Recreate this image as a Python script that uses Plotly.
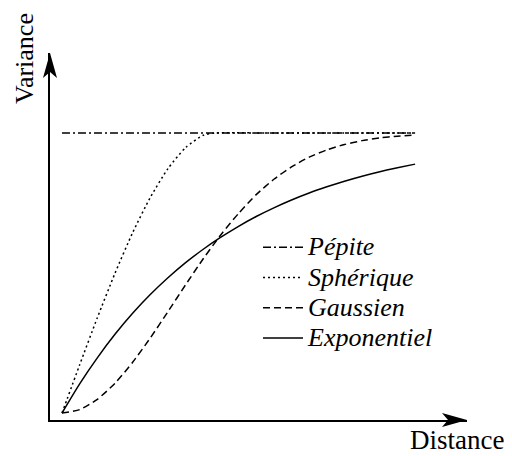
import plotly.graph_objects as go

# ---- data (distance and variance in relative units) ----
distance = [0.0, 0.05, 0.1, 0.15, 0.2, 0.25, 0.3, 0.35, 0.4, 0.45, 0.5,
            0.55, 0.6, 0.65, 0.7, 0.75, 0.8, 0.85, 0.9, 0.95, 1.0]
pepite_x = [0.0, 1.0]
pepite_y = [1.0, 1.0]
spherique_x = [0.0, 0.05, 0.1, 0.15, 0.2, 0.25, 0.3, 0.35, 0.4, 0.433, 0.6, 0.8, 1.0]
spherique_y = [0.0, 0.172, 0.340, 0.499, 0.644, 0.770, 0.873, 0.948, 0.992, 1.0, 1.0, 1.0, 1.0]
gaussien_y = [0.0, 0.012, 0.049, 0.106, 0.181, 0.268, 0.362, 0.458, 0.551, 0.637, 0.713,
              0.780, 0.835, 0.879, 0.914, 0.940, 0.959, 0.973, 0.983, 0.989, 0.993]
exponentiel_y = [0.0, 0.104, 0.197, 0.281, 0.356, 0.423, 0.483, 0.537, 0.585, 0.628, 0.667,
                 0.702, 0.733, 0.761, 0.786, 0.808, 0.828, 0.846, 0.862, 0.876, 0.889]
labels = ["Pépite", "Sphérique", "Gaussien", "Exponentiel"]
axis_labels = ["Distance", "Variance"]

# page has an 8px body margin; figure sized to fit the 512x456 window
OFF = 8
W, H = 512 - OFF, 456 - OFF
ML, MR, MT, MB = 42, 45, 45, 36
PW, PH = W - ML - MR, H - MT - MB


def pp(px, py):
    """page pixel -> paper coordinates"""
    fx, fy = px - OFF, py - OFF
    return (fx - ML) / PW, (H - MB - fy) / PH


FONT = "Liberation Serif, Times New Roman, serif"


def leg(name):
    return f'<span style="font-size:26px">{name}</span>'


fig = go.Figure()
fig.add_trace(go.Scatter(x=pepite_x, y=pepite_y, mode="lines", name=leg(labels[0]),
                         line=dict(color="black", width=1.5, dash="8px,3px,2px,3px")))
fig.add_trace(go.Scatter(x=spherique_x, y=spherique_y, mode="lines", name=leg(labels[1]),
                         line=dict(color="black", width=1.5, dash="2px,3px", shape="spline", smoothing=0.6)))
fig.add_trace(go.Scatter(x=distance, y=gaussien_y, mode="lines", name=leg(labels[2]),
                         line=dict(color="black", width=1.5, dash="7px,4px", shape="spline", smoothing=0.6)))
fig.add_trace(go.Scatter(x=distance, y=exponentiel_y, mode="lines", name=leg(labels[3]),
                         line=dict(color="black", width=1.5, shape="spline", smoothing=0.6)))


def path(points):
    pts = [pp(*p) for p in points]
    return "M" + " L".join(f"{x:.5f},{y:.5f}" for x, y in pts) + " Z"


# arrow heads at the ends of the axes
x_arrow = path([(467, 420), (442, 413), (448, 420), (442, 427)])
y_arrow = path([(50, 53), (43, 78), (50, 72), (57, 78)])
shapes = [dict(type="path", xref="paper", yref="paper", path=p,
               fillcolor="black", line=dict(width=0)) for p in (x_arrow, y_arrow)]

vx, vy = pp(24, 59)
dx, dy = pp(457, 440)
annotations = [
    dict(text=axis_labels[1], x=vx, y=vy, xref="paper", yref="paper", showarrow=False,
         textangle=-90, font=dict(family=FONT, size=26, color="black"),
         xanchor="center", yanchor="middle"),
    dict(text=axis_labels[0], x=dx, y=dy, xref="paper", yref="paper", showarrow=False,
         font=dict(family=FONT, size=27, color="black"),
         xanchor="center", yanchor="middle"),
]

lx, ly = pp(258, 293)
fig.update_layout(
    width=W, height=H,
    margin=dict(l=ML, r=MR, t=MT, b=MB, pad=0),
    plot_bgcolor="white", paper_bgcolor="white",
    showlegend=True,
    legend=dict(x=lx, y=ly, xanchor="left", yanchor="middle", itemwidth=40,
                font=dict(family=FONT, size=21, color="black", style="italic"),
                bgcolor="rgba(0,0,0,0)", borderwidth=0),
    xaxis=dict(range=[-0.034, 1.147], showline=True, linecolor="black", linewidth=2,
               showgrid=False, zeroline=False, showticklabels=False, ticks=""),
    yaxis=dict(range=[-0.025, 1.286], showline=True, linecolor="black", linewidth=2,
               showgrid=False, zeroline=False, showticklabels=False, ticks=""),
    shapes=shapes,
    annotations=annotations,
)

fig.write_html("out.html")
